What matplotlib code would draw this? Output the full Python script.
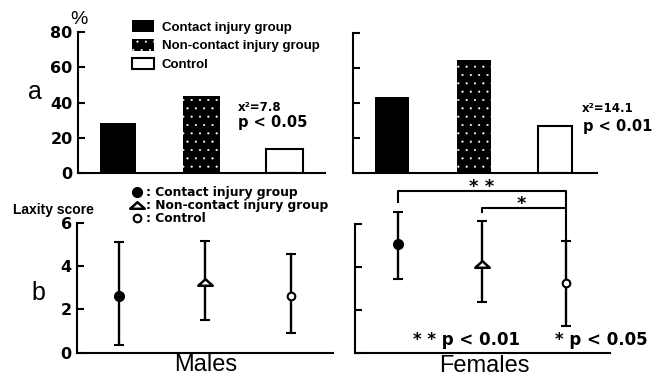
import numpy as np
import matplotlib.pyplot as plt
from matplotlib.path import Path

plt.rcParams.update({
    'font.family': 'Liberation Sans',
    'font.weight': 'bold',
    'hatch.linewidth': 0.3,
    'axes.linewidth': 1.5,
    'ytick.direction': 'in',
    'ytick.major.size': 5,
    'ytick.major.width': 1.5,
})

W, H = 659, 379

# ── Data ──────────────────────────────────────────────────────────────────────
groups = ['Contact injury group', 'Non-contact injury group', 'Control']
sexes = ['Males', 'Females']

# a: injury rate (%)
pct_males = [28.2, 43.7, 13.7]
pct_females = [43.4, 65.0, 27.0]
chi2_labels = ['x²=7.8', 'x²=14.1']
p_labels = ['p < 0.05', 'p < 0.01']

# b: laxity score (mean with range)
lax_mean_m = [2.63, 3.28, 2.63]
lax_lo_m = [0.37, 1.51, 0.92]
lax_hi_m = [5.09, 5.17, 4.55]
lax_mean_f = [5.07, 4.16, 3.26]
lax_lo_f = [3.44, 2.39, 1.27]
lax_hi_f = [6.56, 6.16, 5.24]

NUM = dict(family='DejaVu Sans', weight='bold')

fig = plt.figure(figsize=(W / 100, H / 100), dpi=100)


def px_axes(left, right, top, bottom):
    return fig.add_axes([left / W, 1 - bottom / H, (right - left) / W, (bottom - top) / H])


def px(x, y):
    return x / W, 1 - y / H


def style_axes(ax, xlim, ylim, yticks, labels):
    ax.set_xlim(*xlim)
    ax.set_ylim(*ylim)
    ax.set_yticks(yticks)
    ax.set_xticks([])
    for s in ['top', 'right']:
        ax.spines[s].set_visible(False)
    ax.patch.set_alpha(0)
    if labels:
        ax.set_yticklabels([str(t) for t in yticks], fontdict=dict(size=11.5, **NUM))
        ax.tick_params(axis='y', pad=4)
    else:
        ax.set_yticklabels([])


# ── Panel a: bars ─────────────────────────────────────────────────────────────
axA_m = px_axes(78.3, 325, 31.7, 173.3)
axA_f = px_axes(353.3, 596.7, 33.3, 173.3)

bar_styles = [
    dict(facecolor='black', edgecolor='black', lw=0),
    dict(facecolor='black', edgecolor='white', hatch='..', lw=0),
    dict(facecolor='white', edgecolor='black', lw=1.5),
]

x = np.arange(len(groups))
bars_m = []
for ax, vals, xl, w in [(axA_m, pct_males, (-0.48, 2.49), 0.44),
                        (axA_f, pct_females, (-0.48, 2.51), 0.42)]:
    style_axes(ax, xl, (0, 80), [0, 20, 40, 60, 80], ax is axA_m)
    hs = []
    for i in range(len(groups)):
        b = ax.bar(x[i], vals[i], width=w, label=groups[i], zorder=1, **bar_styles[i])
        hs.append(b)
    if ax is axA_m:
        bars_m = hs

axA_m.legend(handles=bars_m, loc='upper left', bbox_to_anchor=px(131.7, 20.5),
             bbox_transform=fig.transFigure, frameon=False, borderpad=0,
             borderaxespad=0, handlelength=1.69, handleheight=0.95,
             handletextpad=0.58, labelspacing=0.42,
             prop=dict(family='Liberation Sans', weight='bold', size=9.5))

for (xt, yt), s, fs in [((238, 107.5), chi2_labels[0], 8.5), ((238, 122), p_labels[0], 10.5),
                        ((582, 108.5), chi2_labels[1], 8.5), ((583, 126.5), p_labels[1], 10.5)]:
    fig.text(*px(xt, yt), s, ha='left', va='center', size=fs, **NUM)

fig.text(*px(78.5, 19.5), '%', ha='center', va='center', size=14, weight='normal')
fig.text(*px(35, 92), 'a', ha='center', va='center', size=18, weight='normal')

# ── Panel b: laxity score ─────────────────────────────────────────────────────
axB_m = px_axes(77.3, 333, 222.7, 352.7)
axB_f = px_axes(355, 610, 224.3, 353.3)

tri = Path([(-1, -0.45), (1, -0.45), (0, 0.45), (-1, -0.45)],
           [Path.MOVETO, Path.LINETO, Path.LINETO, Path.CLOSEPOLY])
marker_styles = [
    dict(marker='o', ms=7, mfc='black', mec='black'),
    dict(marker=tri, ms=10.5, mfc='white', mec='black', mew=1.8),
    dict(marker='o', ms=5.5, mfc='white', mec='black', mew=1.5),
]

pts_m = []
for ax, mean, lo, hi, xl in [(axB_m, lax_mean_m, lax_lo_m, lax_hi_m, (-0.485, 2.49)),
                             (axB_f, lax_mean_f, lax_lo_f, lax_hi_f, (-0.51, 2.52))]:
    style_axes(ax, xl, (0, 6), [0, 2, 4, 6], ax is axB_m)
    mean, lo, hi = map(np.array, (mean, lo, hi))
    ax.errorbar(x, mean, yerr=[mean - lo, hi - mean], fmt='none', ecolor='black',
                elinewidth=1.7, capsize=3.5, capthick=1.5, clip_on=False, zorder=2)
    hs = []
    for i in range(len(groups)):
        h, = ax.plot(x[i], mean[i], ls='none', zorder=3, clip_on=False,
                     label=': ' + groups[i], **marker_styles[i])
        hs.append(h)
    if ax is axB_m:
        pts_m = hs

axB_m.legend(handles=pts_m, loc='upper left', bbox_to_anchor=px(129.7, 186),
             bbox_transform=fig.transFigure, frameon=False, borderpad=0,
             borderaxespad=0, handlelength=1.2, handletextpad=0.1,
             labelspacing=0.0, numpoints=1,
             prop=dict(family='DejaVu Sans', weight='bold', size=8.8))

fig.text(*px(13, 210), 'Laxity score', ha='left', va='center', size=10)
fig.text(*px(38.5, 293), 'b', ha='center', va='center', size=18, weight='normal')

# significance brackets (females)
bk = dict(color='black', lw=1.5, clip_on=False, solid_capstyle='butt')
axB_f.plot([x[0], x[0], x[2], x[2]], [6.98, 7.57, 7.57, lax_hi_f[2]], **bk)
axB_f.plot([x[1], x[1], x[2]], [6.51, 6.74, 6.74], **bk)
axB_f.text((x[0] + x[2]) / 2, 7.75, '* *', ha='center', va='center', size=13, **NUM)
axB_f.text((x[1] + x[2]) / 2 - 0.03, 6.95, '*', ha='center', va='center', size=13, **NUM)

fig.text(*px(413, 340), '* * p < 0.01', ha='left', va='center', size=12, **NUM)
fig.text(*px(555, 340), '* p < 0.05', ha='left', va='center', size=12, **NUM)

fig.text(*px(206, 365), sexes[0], ha='center', va='center', size=17, weight='normal')
fig.text(*px(484.5, 366), sexes[1], ha='center', va='center', size=17, weight='normal')

fig.savefig('out.png', dpi=100)
